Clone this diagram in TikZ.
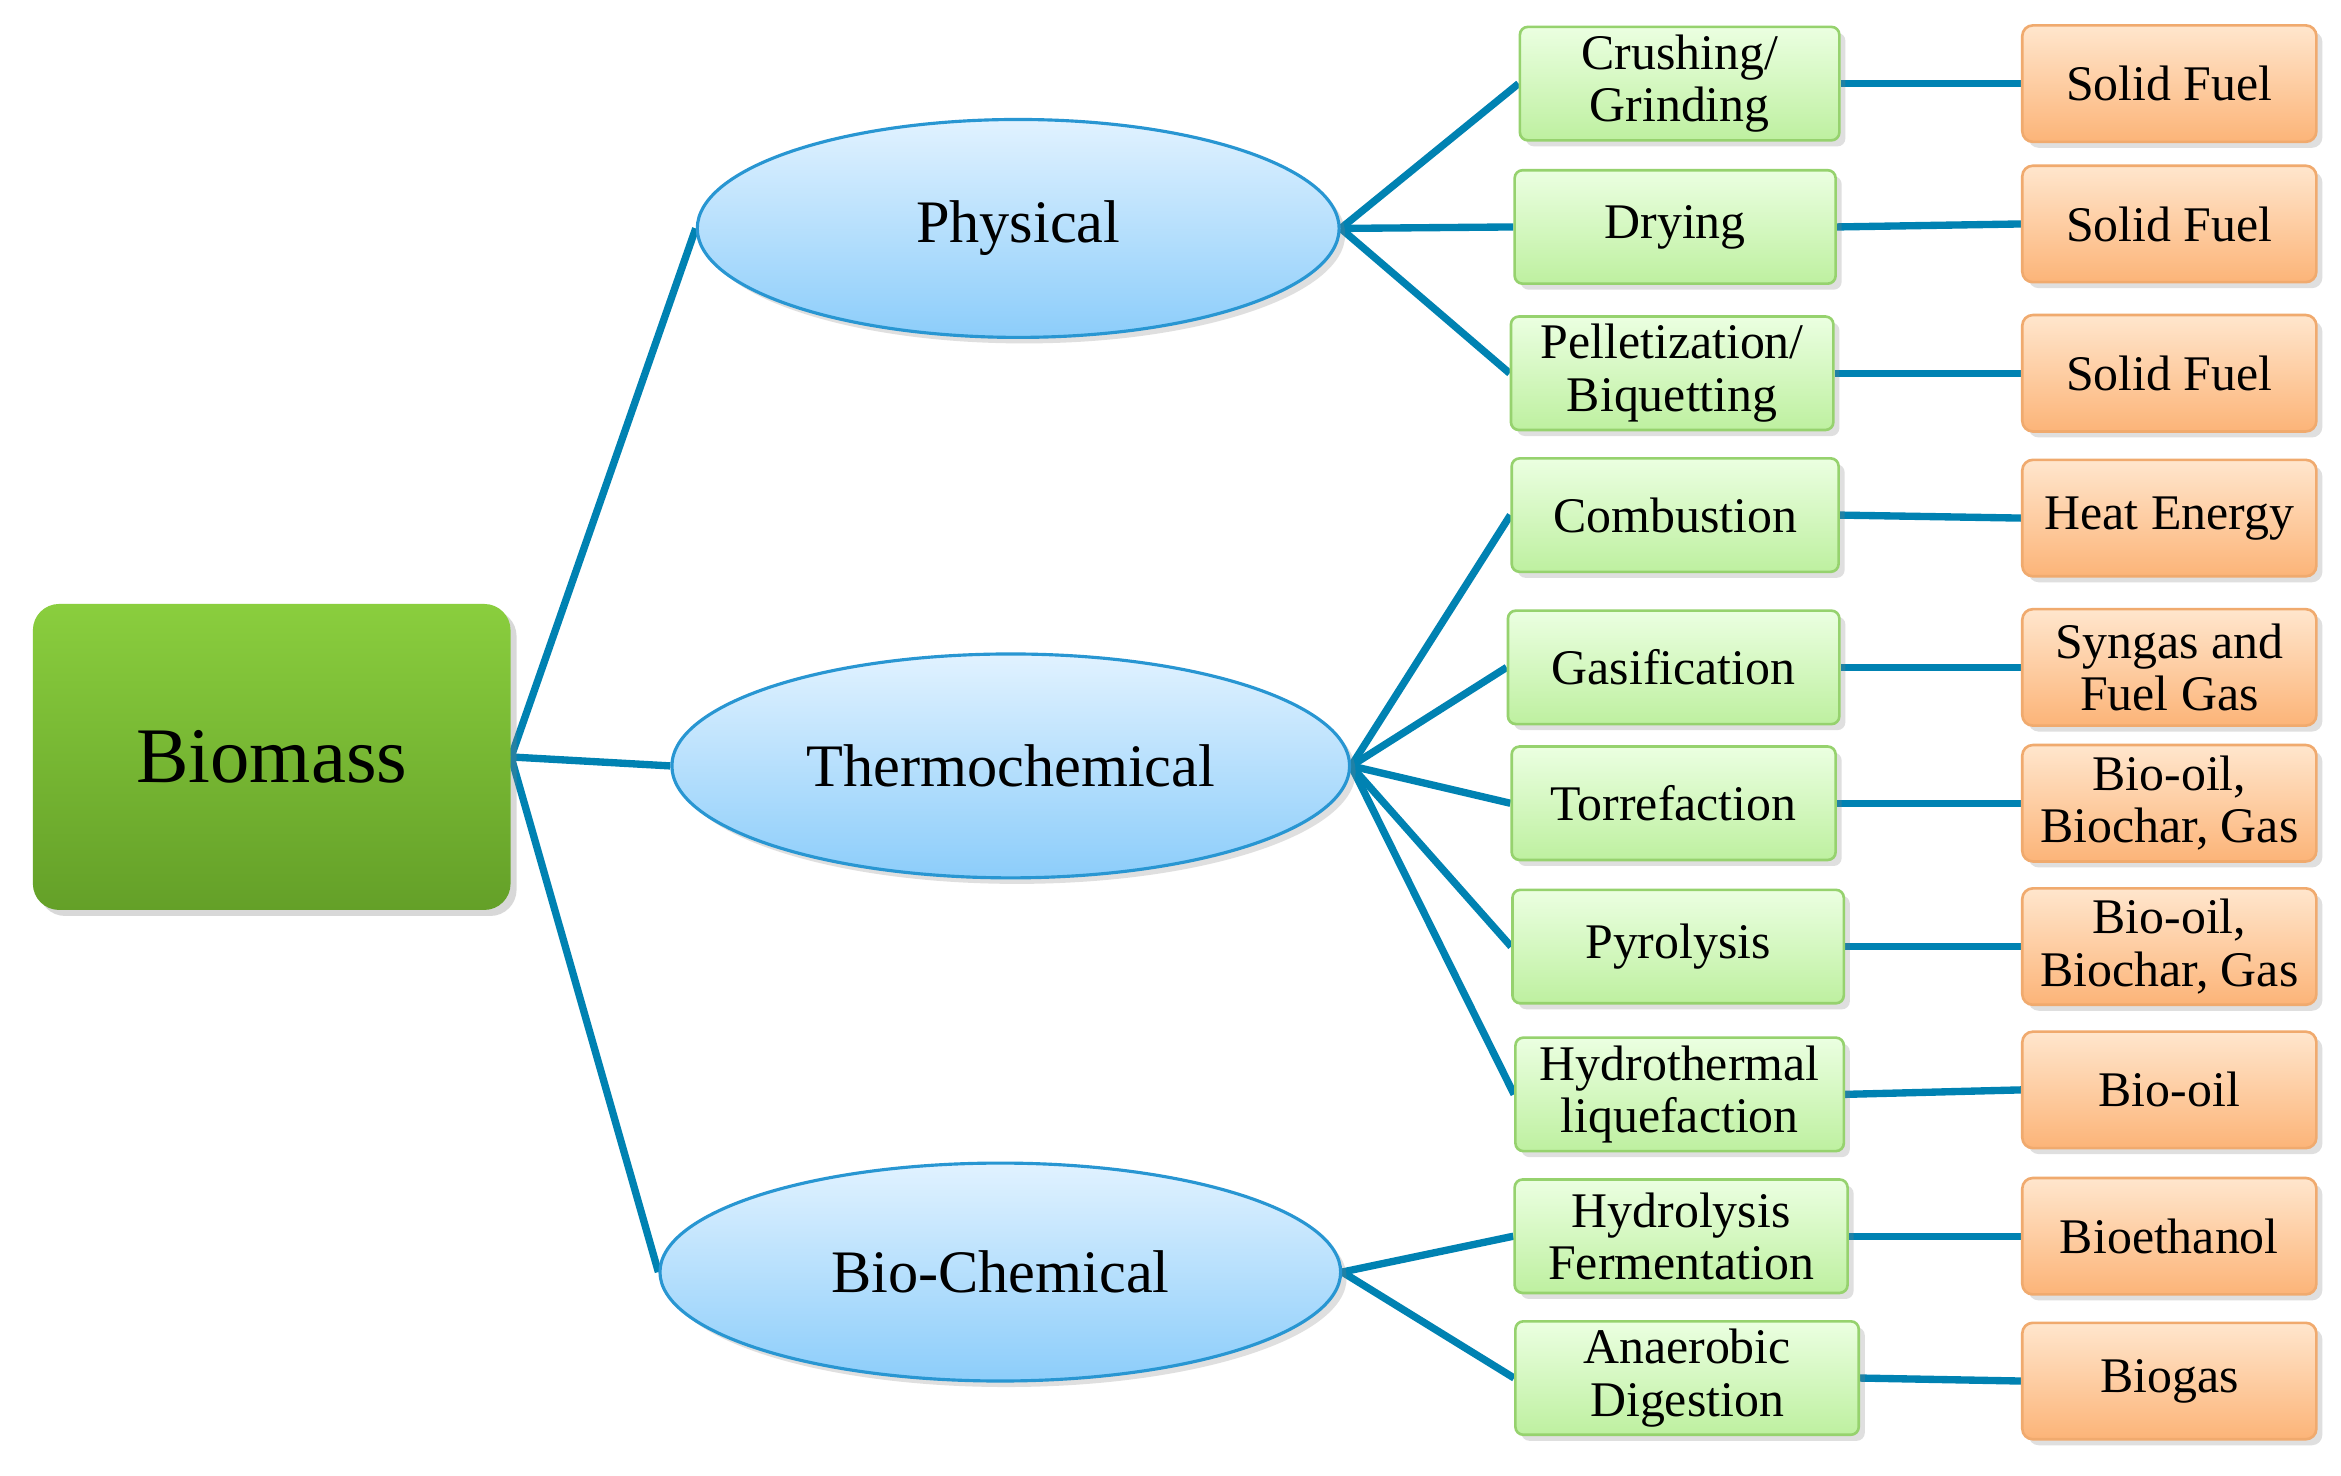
\documentclass[tikz,border=0pt]{standalone}
\usepackage{fontspec}
\setmainfont{Liberation Serif}
\usetikzlibrary{shapes.geometric,shadows,backgrounds}
\definecolor{lnc}{RGB}{0,130,178}
\tikzset{
 bio/.style={draw=none,rounded corners=10pt,top color={rgb,255:red,138;green,206;blue,62},bottom color={rgb,255:red,100;green,160;blue,40},minimum width=6.4cm,minimum height=4.1cm,font=\fontsize{30}{32}\selectfont,drop shadow={opacity=0.3}},
 ell/.style={ellipse,draw={rgb,255:red,40;green,150;blue,210},line width=1.2pt,top color={rgb,255:red,225;green,242;blue,255},bottom color={rgb,255:red,140;green,205;blue,250},inner sep=0pt,font=\fontsize{23}{25}\selectfont,drop shadow={opacity=0.25}},
 gbox/.style={draw={rgb,255:red,150;green,210;blue,110},line width=1pt,rounded corners=3pt,top color={rgb,255:red,235;green,255;blue,225},bottom color={rgb,255:red,190;green,240;blue,160},minimum height=1.52cm,inner sep=1pt,align=center,font=\fontsize{19}{20}\selectfont,drop shadow={opacity=0.25}},
 obox/.style={draw={rgb,255:red,240;green,170;blue,110},line width=1pt,rounded corners=4pt,top color={rgb,255:red,255;green,230;blue,205},bottom color={rgb,255:red,252;green,180;blue,120},minimum width=3.94cm,minimum height=1.56cm,inner sep=1pt,align=center,font=\fontsize{19}{20}\selectfont,drop shadow={opacity=0.25}},
 ln/.style={draw=lnc,line width=2.8pt}
}
\begin{document}
\begin{tikzpicture}[x=0.02cm,y=-0.02cm]
\useasboundingbox (0,0) rectangle (1568,988);
\node[bio] (bm) at (182,507) {Biomass};
\node[ell,minimum width=8.6cm,minimum height=2.92cm] (ph) at (682,153) {Physical};
\node[ell,minimum width=9.08cm,minimum height=3cm] (th) at (677,513) {Thermochemical};
\node[ell,minimum width=9.12cm,minimum height=2.92cm] (bc) at (670,852) {Bio-Chemical};
\node[gbox,minimum width=4.28cm] (g1) at (1125,56) {Crushing/\\Grinding};
\node[gbox,minimum width=4.3cm] (g2) at (1122,152) {Drying};
\node[gbox,minimum width=4.32cm] (g3) at (1120,250) {Pelletization/\\Biquetting};
\node[gbox,minimum width=4.38cm] (g4) at (1122,345) {Combustion};
\node[gbox,minimum width=4.44cm] (g5) at (1121,447) {Gasification};
\node[gbox,minimum width=4.34cm] (g6) at (1121,538) {Torrefaction};
\node[gbox,minimum width=4.44cm] (g7) at (1124,634) {Pyrolysis};
\node[gbox,minimum width=4.4cm] (g8) at (1125,733) {Hydrothermal\\liquefaction};
\node[gbox,minimum width=4.46cm] (g9) at (1126,828) {Hydrolysis\\Fermentation};
\node[gbox,minimum width=4.6cm] (g10) at (1130,923) {Anaerobic\\Digestion};
\foreach \i/\y/\t in {1/56/Solid Fuel,2/150/Solid Fuel,3/250/Solid Fuel,4/347/Heat Energy,5/447/{Syngas and\\Fuel Gas},6/538/{Bio-oil,\\Biochar, Gas},7/634/{Bio-oil,\\Biochar, Gas},8/730/Bio-oil,9/828/Bioethanol,10/925/Biogas}
  \node[obox] (o\i) at (1453,\y) {\t};
\begin{pgfonlayer}{background}
\fill[white] (0,0) rectangle (1568,988);
\draw[ln] (bm.east) -- (ph.west);
\draw[ln] (bm.east) -- (th.west);
\draw[ln] (bm.east) -- (bc.west);
\foreach \g in {g1,g2,g3} \draw[ln] (ph.east) -- (\g.west);
\foreach \g in {g4,g5,g6,g7,g8} \draw[ln] (th.east) -- (\g.west);
\foreach \g in {g9,g10} \draw[ln] (bc.east) -- (\g.west);
\foreach \i in {1,...,10} \draw[ln] (g\i.east) -- (o\i.west);
\end{pgfonlayer}
\end{tikzpicture}
\end{document}
